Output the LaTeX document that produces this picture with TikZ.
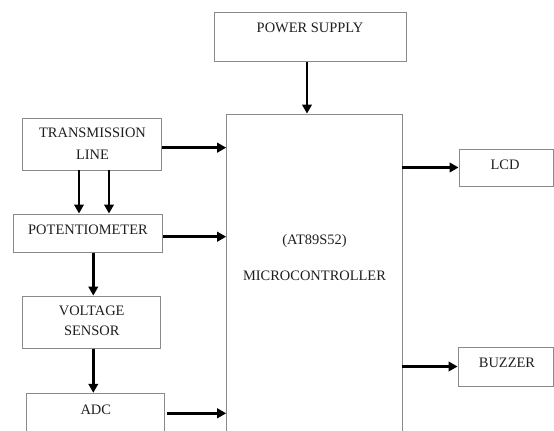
\documentclass[tikz,border=0pt]{standalone}
\usepackage{fontspec}
\setmainfont{Liberation Serif}
\usetikzlibrary{arrows.meta}
\definecolor{boxgray}{HTML}{8A8A8A}
\definecolor{txtc}{HTML}{1E1E1E}
\begin{document}
\begin{tikzpicture}[x=1bp,y=-1bp,
  blk/.style={draw=boxgray, line width=0.9bp, inner sep=0pt, fill=none},
  lbl/.style={inner sep=0pt, text=txtc, font=\fontsize{14.5}{17}\selectfont, text height=9.6bp, text depth=0bp},
  arr/.style={line width=2.8bp, -{Triangle[length=9bp,width=9.5bp]}},
]
\useasboundingbox (0,0) rectangle (554,430);
\clip (0,0) rectangle (554,430);

% boxes
\node[blk, minimum width=192.7bp, minimum height=49bp] (ps) at (310.3,37.2) {};
\node[blk, minimum width=175.3bp, minimum height=340bp] (mcu) at (314.3,284) {};
\node[blk, minimum width=94bp, minimum height=37bp] (lcd) at (506,167.5) {};
\node[blk, minimum width=95bp, minimum height=39bp] (bz) at (505.5,366.5) {};
\node[blk, minimum width=139bp, minimum height=51.7bp] (tl) at (92.2,144.15) {};
\node[blk, minimum width=148.7bp, minimum height=38.7bp] (pot) at (88.3,233.3) {};
\node[blk, minimum width=138bp, minimum height=52.3bp] (vs) at (91.7,322.2) {};
\node[blk, minimum width=138.3bp, minimum height=66.7bp] (adc) at (95.2,426.6) {};

% texts
\node[lbl] (pst) at (310,28) {POWER SUPPLY};
\node[lbl] (mcut1) at (314.5,240) {(AT89S52)};
\node[lbl] (mcut2) at (314.5,276) {MICROCONTROLLER};
\node[lbl] (lcdt) at (505,165) {LCD};
\node[lbl] (bzt) at (507,363) {BUZZER};
\node[lbl] (tlt1) at (92.5,133) {TRANSMISSION};
\node[lbl] (tlt2) at (92.5,155) {LINE};
\node[lbl] (pott) at (88,229.3) {POTENTIOMETER};
\node[lbl] (vst1) at (91.7,311) {VOLTAGE};
\node[lbl] (vst2) at (91.7,330.7) {SENSOR};
\node[lbl] (adct) at (95.8,409.3) {ADC};

% connectors
\draw[arr] ([xshift=-3.3bp]ps.south) -- ([xshift=-3.3bp]ps.south |- mcu.north);
\draw[arr] ([yshift=-3.5bp]tl.east) -- ([yshift=-3.5bp]tl.east -| mcu.west);
\draw[arr] ([yshift=-3.4bp]pot.east) -- ([yshift=-3.4bp]pot.east -| mcu.west);
\draw[arr] ([xshift=2.4bp,yshift=13.3bp]adc.east) -- ([yshift=13.3bp]adc.east -| mcu.west);
\draw[arr] (mcu.east |- lcd.west) -- (lcd.west);
\draw[arr] (mcu.east |- bz.west) -- (bz.west);
\draw[arr] ([xshift=-13.2bp]tl.south) -- ([xshift=-13.2bp]tl.south |- pot.north);
\draw[arr] ([xshift=16.8bp]tl.south) -- ([xshift=16.8bp]tl.south |- pot.north);
\draw[arr] ([xshift=5bp]pot.south) -- ([xshift=5bp]pot.south |- vs.north);
\draw[arr] ([xshift=1.6bp]vs.south) -- ([xshift=1.6bp]vs.south |- adc.north);
\end{tikzpicture}
\end{document}
